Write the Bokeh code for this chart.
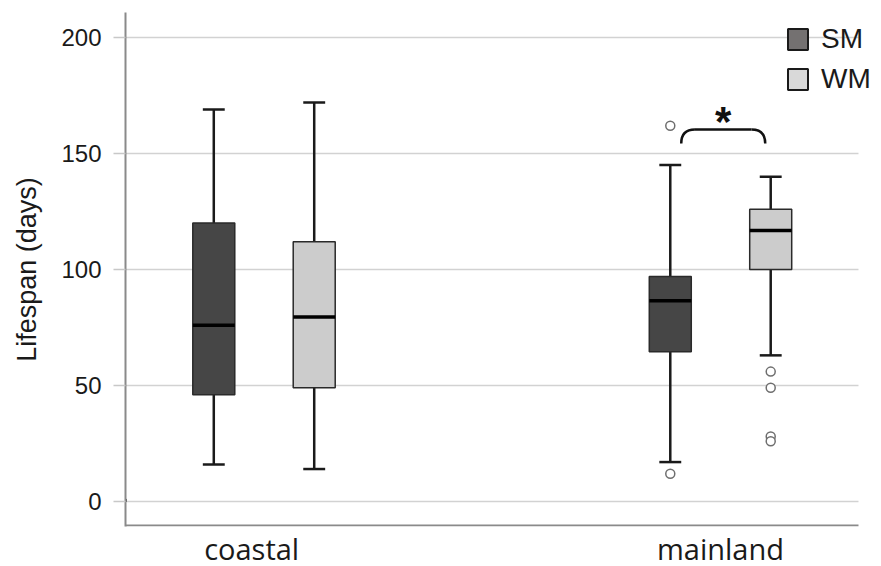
from bokeh.plotting import figure
from bokeh.models import FixedTicker, Legend, LegendItem, ColumnDataSource
from bokeh.core.properties import value
from bokeh.embed import file_html
from bokeh.resources import INLINE

# ---- data ----
groups = ["coastal", "mainland"]
series = ["SM", "WM"]

sm_low = [16, 17]
sm_q1 = [46, 64.5]
sm_med = [76, 86.5]
sm_q3 = [120, 97]
sm_high = [169, 145]

wm_low = [14, 63]
wm_q1 = [49, 100]
wm_med = [79.5, 116.8]
wm_q3 = [112, 126]
wm_high = [172, 140]

sm_out_group = ["mainland", "mainland"]
sm_out_vals = [162, 12]
wm_out_group = ["mainland", "mainland", "mainland", "mainland"]
wm_out_vals = [56, 49, 28, 26]

y_ticks = [0, 50, 100, 150, 200]
sig_label = "*"
sig_group = "mainland"

# ---- layout / style ----
group_pos = {g: i + 1 for i, g in enumerate(groups)}
label_nudge = {"coastal": -0.027, "mainland": 0.0}
offset = {"SM": -0.11, "WM": 0.11}
box_w = 0.092
cap_w = 0.048
fills = {"SM": "#464646", "WM": "#cccccc"}
legend_fills = {"SM": "#747171", "WM": "#d9d9d9"}

x_start, x_end = 0.6966, 2.3527      # frame extends to the right edge (room for legend)
x_axis_end = 2.3023                  # where grid lines / x axis line stop
y_start, y_end = -10.77, 210.78
y_axis_base = -10.34

stats = {
    "SM": dict(low=sm_low, q1=sm_q1, med=sm_med, q3=sm_q3, high=sm_high,
               og=sm_out_group, ov=sm_out_vals),
    "WM": dict(low=wm_low, q1=wm_q1, med=wm_med, q3=wm_q3, high=wm_high,
               og=wm_out_group, ov=wm_out_vals),
}

p = figure(frame_width=756, frame_height=514,
           x_range=(x_start, x_end), y_range=(y_start, y_end),
           output_backend="svg", toolbar_location=None,
           min_border_left=125, min_border_right=0, min_border_top=12,
           min_border_bottom=30)
p.outline_line_color = None
p.background_fill_color = "white"
p.xgrid.visible = False
p.ygrid.visible = False

# manual horizontal grid lines (stop short of the right edge)
p.segment(x0=[x_start] * len(y_ticks), y0=y_ticks, x1=[x_axis_end] * len(y_ticks), y1=y_ticks,
          line_color="#d2d2d2", line_width=1.5, level="underlay")
# x axis line
p.segment(x0=[x_start], y0=[y_axis_base], x1=[x_axis_end], y1=[y_axis_base],
          line_color="#8a8a8a", line_width=2)

# y axis
p.yaxis.ticker = FixedTicker(ticks=y_ticks)
p.yaxis.axis_label = "Lifespan (days)"
p.yaxis.axis_label_text_font = "Liberation Sans"
p.yaxis.axis_label_text_font_style = "normal"
p.yaxis.axis_label_text_font_size = "27px"
p.yaxis.axis_label_text_color = "#1a1a1a"
p.yaxis.axis_label_standoff = 16
p.yaxis.major_label_text_font = "Liberation Sans"
p.yaxis.major_label_text_font_size = "24px"
p.yaxis.major_label_text_color = "#1a1a1a"
p.yaxis.major_label_standoff = 12
p.yaxis.major_tick_out = 12
p.yaxis.major_tick_in = 0
p.yaxis.major_tick_line_color = "#c8c8c8"
p.yaxis.major_tick_line_width = 1.5
p.yaxis.minor_tick_line_color = None
p.yaxis.axis_line_color = "#8a8a8a"
p.yaxis.axis_line_width = 2

# x axis (labels only; line drawn above)
x_label_pos = [group_pos[g] + label_nudge[g] for g in groups]
p.xaxis.ticker = FixedTicker(ticks=x_label_pos)
p.xaxis.major_label_overrides = {pos: g for pos, g in zip(x_label_pos, groups)}
p.xaxis.major_label_text_font = "Open Sans"
p.xaxis.major_label_text_font_size = "29px"
p.xaxis.major_label_text_color = "#1a1a1a"
p.xaxis.major_label_standoff = -4
p.xaxis.major_tick_line_color = None
p.xaxis.minor_tick_line_color = None
p.xaxis.axis_line_color = None

legend_items = []
for s in series:
    st = stats[s]
    xs = [group_pos[g] + offset[s] for g in groups]
    src = ColumnDataSource(dict(x=xs, low=st["low"], q1=st["q1"], med=st["med"],
                                q3=st["q3"], high=st["high"],
                                x0=[x - box_w / 2 for x in xs], x1=[x + box_w / 2 for x in xs],
                                c0=[x - cap_w / 2 for x in xs], c1=[x + cap_w / 2 for x in xs]))
    # whiskers
    p.segment(x0="x", y0="q3", x1="x", y1="high", source=src, line_color="#1a1a1a", line_width=2.5)
    p.segment(x0="x", y0="low", x1="x", y1="q1", source=src, line_color="#1a1a1a", line_width=2.5)
    p.segment(x0="c0", y0="high", x1="c1", y1="high", source=src, line_color="#1a1a1a", line_width=2.5)
    p.segment(x0="c0", y0="low", x1="c1", y1="low", source=src, line_color="#1a1a1a", line_width=2.5)
    # box
    p.vbar(x="x", width=box_w, top="q3", bottom="q1", source=src,
           fill_color=fills[s], line_color="#2a2a2a", line_width=1.5)
    # median
    p.segment(x0="x0", y0="med", x1="x1", y1="med", source=src, line_color="#000000", line_width=3.5)
    # outliers
    p.scatter(x=[group_pos[g] + offset[s] for g in st["og"]], y=st["ov"], marker="circle",
              size=9, fill_color="white", line_color="#6e6e6e", line_width=1.5)
    # legend swatch (dummy bar outside the visible range)
    lr = p.vbar(x=[x_start - 1], top=[1], bottom=[0], width=0.1, fill_color=legend_fills[s],
                line_color="#1a1a1a", line_width=2)
    legend_items.append(LegendItem(label=s, renderers=[lr]))

# significance bracket
gx = group_pos[sig_group]
bx0 = gx + offset["SM"] + cap_w / 2
bx1 = gx + offset["WM"] - 0.012
by0, by1 = 154.3, 160.3
r = 0.03
p.quadratic(x0=[bx0, bx1], y0=[by0, by0], x1=[bx0 + r, bx1 - r], y1=[by1, by1],
            cx=[bx0, bx1], cy=[by1, by1], line_color="#111111", line_width=2.5)
p.segment(x0=[bx0 + r], y0=[by1], x1=[bx1 - r], y1=[by1], line_color="#111111", line_width=2.5)
p.text(x=[(bx0 + bx1) / 2], y=[164], text=[sig_label], text_align="center",
       text_baseline="alphabetic", text_font=value("Liberation Sans"),
       text_font_style="bold", text_font_size="42px", text_color="#111111")

legend = Legend(items=legend_items, location=(660, 431), orientation="vertical",
                padding=0, margin=0, spacing=8, glyph_width=25, glyph_height=26,
                label_height=31, label_standoff=11,
                label_text_font="Liberation Sans", label_text_font_size="28px",
                label_text_color="#1a1a1a", border_line_color=None,
                background_fill_alpha=0)
p.add_layout(legend, "center")

open("out.html", "w").write(file_html(p, INLINE))
